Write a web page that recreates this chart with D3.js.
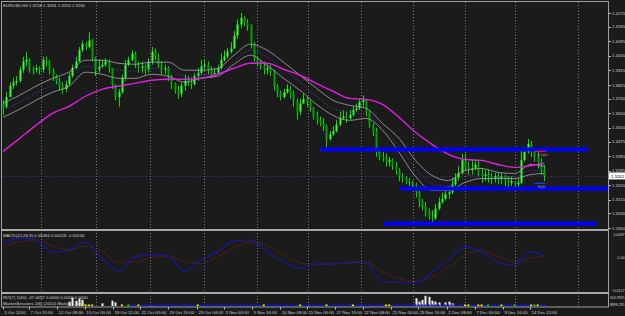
<!DOCTYPE html>
<html>
<head>
<meta charset="utf-8">
<script src="https://cdn.jsdelivr.net/npm/d3@7"></script>
<style>
  body { margin: 0; background: #1b1b1b; }
  svg text { font-family: "Liberation Sans", Arial, sans-serif; font-size: 4.3px; fill: #d0d0d0; }
</style>
</head>
<body>
<script>
const width = 625;
const height = 316;

// candles, one per 2 H4 bars, oldest first
const closes = [
  1.369,1.375,1.382,1.384,1.385,1.392,1.397,1.398,1.393,1.392,
  1.393,1.392,1.398,1.397,1.392,1.388,1.385,1.382,1.380,1.383,
  1.388,1.393,1.397,1.404,1.408,1.406,1.410,1.399,1.392,1.394,
  1.395,1.397,1.393,1.383,1.375,1.378,1.387,1.395,1.398,1.402,
  1.395,1.393,1.394,1.392,1.397,1.403,1.400,1.395,1.392,1.393,
  1.388,1.383,1.379,1.377,1.382,1.385,1.384,1.383,1.388,1.390,
  1.394,1.395,1.392,1.390,1.390,1.393,1.398,1.400,1.403,1.405,
  1.413,1.420,1.424,1.421,1.419,1.408,1.399,1.397,1.394,1.392,
  1.393,1.390,1.382,1.378,1.375,1.378,1.380,1.377,1.373,1.366,
  1.371,1.374,1.372,1.368,1.363,1.361,1.359,1.357,1.349,1.352,
  1.354,1.358,1.362,1.363,1.362,1.364,1.367,1.368,1.372,1.373,
  1.366,1.358,1.354,1.341,1.338,1.337,1.335,1.336,1.332,1.330,
  1.326,1.325,1.323,1.322,1.321,1.316,1.311,1.307,1.304,1.301,
  1.300,1.306,1.310,1.312,1.315,1.316,1.321,1.325,1.328,1.336,
  1.332,1.330,1.331,1.333,1.328,1.326,1.327,1.326,1.325,1.326,
  1.325,1.326,1.323,1.322,1.323,1.321,1.322,1.336,1.341,1.346,
  1.342,1.338,1.335,1.330,1.3262
];
const highs = [
  1.373,1.378,1.384,1.387,1.388,1.394,1.400,1.403,1.399,1.394,
  1.395,1.394,1.400,1.400,1.398,1.393,1.389,1.387,1.384,1.385,
  1.390,1.395,1.400,1.406,1.410,1.409,1.415,1.411,1.400,1.398,
  1.398,1.399,1.398,1.393,1.383,1.380,1.389,1.398,1.400,1.404,
  1.403,1.397,1.397,1.395,1.399,1.406,1.405,1.402,1.397,1.395,
  1.394,1.389,1.384,1.382,1.384,1.389,1.388,1.387,1.390,1.393,
  1.398,1.398,1.397,1.394,1.393,1.395,1.402,1.404,1.405,1.409,
  1.416,1.423,1.427,1.425,1.423,1.420,1.409,1.400,1.398,1.397,
  1.395,1.395,1.392,1.383,1.379,1.380,1.383,1.382,1.379,1.374,
  1.374,1.377,1.375,1.373,1.369,1.366,1.363,1.362,1.358,1.354,
  1.357,1.361,1.366,1.367,1.366,1.367,1.369,1.371,1.374,1.376,
  1.373,1.367,1.359,1.356,1.342,1.341,1.340,1.338,1.337,1.335,
  1.331,1.328,1.326,1.325,1.323,1.322,1.317,1.312,1.310,1.306,
  1.305,1.309,1.313,1.316,1.317,1.320,1.325,1.328,1.332,1.340,
  1.340,1.335,1.336,1.336,1.336,1.331,1.330,1.330,1.328,1.328,
  1.328,1.328,1.327,1.326,1.326,1.323,1.325,1.342,1.344,1.349,
  1.348,1.343,1.341,1.337,1.333
];
const lows = [
  1.364,1.368,1.375,1.380,1.382,1.384,1.390,1.394,1.390,1.389,
  1.390,1.389,1.390,1.394,1.389,1.385,1.383,1.379,1.377,1.378,
  1.382,1.387,1.392,1.397,1.403,1.404,1.405,1.397,1.388,1.390,
  1.393,1.394,1.390,1.380,1.373,1.369,1.377,1.385,1.394,1.397,
  1.393,1.390,1.390,1.389,1.390,1.395,1.398,1.393,1.389,1.389,
  1.385,1.380,1.377,1.374,1.375,1.379,1.382,1.380,1.382,1.385,
  1.389,1.392,1.389,1.387,1.388,1.389,1.392,1.397,1.399,1.402,
  1.405,1.411,1.418,1.419,1.416,1.405,1.397,1.394,1.392,1.389,
  1.389,1.388,1.379,1.375,1.373,1.374,1.377,1.374,1.369,1.361,
  1.364,1.371,1.369,1.366,1.361,1.358,1.357,1.354,1.344,1.348,
  1.351,1.353,1.357,1.361,1.359,1.361,1.363,1.366,1.367,1.369,
  1.363,1.356,1.351,1.338,1.336,1.335,1.332,1.332,1.330,1.327,
  1.323,1.322,1.321,1.320,1.318,1.313,1.307,1.305,1.301,1.299,
  1.297,1.299,1.305,1.309,1.311,1.312,1.315,1.320,1.323,1.327,
  1.330,1.327,1.327,1.330,1.326,1.322,1.323,1.322,1.321,1.322,
  1.321,1.321,1.320,1.318,1.320,1.318,1.318,1.321,1.335,1.340,
  1.338,1.335,1.331,1.327,1.323
];

// indicator readings, taken every 5 candles
const sampleIdx = [0,5,10,15,20,25,30,35,40,45,50,55,60,65,70,75,80,85,90,95,100,105,110,115,120,125,130,135,140,145,150,155,160,164];
const maSlow = [1.3414,1.3494,1.3575,1.3649,1.3693,1.3755,1.3798,1.3817,1.3835,1.3854,1.3860,1.3860,1.3866,1.3891,1.3928,1.3959,1.3959,1.3922,1.3885,1.3835,1.3786,1.3742,1.3736,1.3705,1.3625,1.3532,1.3457,1.3395,1.3364,1.3358,1.3333,1.3315,1.3327,1.3339];
const bandUpper = [1.3711,1.3761,1.3817,1.3866,1.3904,1.3978,1.3978,1.3959,1.3953,1.3966,1.3966,1.3916,1.3916,1.3928,1.4009,1.4077,1.4040,1.3966,1.3885,1.3804,1.3730,1.3699,1.3680,1.3587,1.3494,1.3358,1.3265,1.3234,1.3296,1.3308,1.3284,1.3277,1.3333,1.3321];
const bandMid = [1.3668,1.3718,1.3773,1.3823,1.3860,1.3941,1.3941,1.3916,1.3910,1.3928,1.3928,1.3879,1.3885,1.3897,1.3972,1.4040,1.3997,1.3922,1.3842,1.3755,1.3680,1.3656,1.3643,1.3556,1.3445,1.3308,1.3215,1.3197,1.3259,1.3271,1.3259,1.3259,1.3296,1.3296];
const bandLower = [1.3625,1.3674,1.3730,1.3780,1.3817,1.3904,1.3891,1.3866,1.3866,1.3891,1.3879,1.3842,1.3866,1.3879,1.3953,1.4009,1.3947,1.3866,1.3792,1.3705,1.3637,1.3606,1.3618,1.3544,1.3408,1.3259,1.3172,1.3172,1.3222,1.3246,1.3246,1.3246,1.3271,1.3277];
const macdMain = [0.0051,0.0072,0.0065,0.0022,0.0029,0.0058,-0.0004,-0.0048,0.0003,0.0011,0.0007,-0.0048,-0.0008,0.0022,0.0062,0.0065,0.0022,-0.0015,-0.0037,-0.0022,-0.0022,-0.0015,-0.0015,-0.0088,-0.0088,-0.0091,-0.0051,-0.0008,0.0040,0.0022,-0.0015,-0.0026,0.0022,0.0007];
const macdSignal = [0.0040,0.0058,0.0066,0.0045,0.0030,0.0042,0.0025,-0.0015,-0.0015,0.0000,0.0008,-0.0015,-0.0020,0.0005,0.0035,0.0058,0.0045,0.0012,-0.0018,-0.0025,-0.0022,-0.0018,-0.0016,-0.0050,-0.0075,-0.0085,-0.0068,-0.0035,0.0010,0.0025,0.0005,-0.0015,0.0000,0.0008];

// horizontal levels drawn on the chart: price, from candle, to candle
const levelPrice = [1.3426, 1.3184, 1.2967];
const levelFrom = [96, 120.3, 115.5];
const levelTo = [177.3, 183.3, 180];

// small marker objects near the last bars
const markPrice = [1.3414, 1.3216];
const markColor = ["#e01818", "#1040ff"];
const markText = ["R.right", "Right"];

// lower window histogram
const histIdx = [20,21,22,23,24,30,33,34,125,126,127,128,129,130,131,132,134,135,136];
const histVal = [250,480,300,420,350,150,300,200,450,250,350,580,520,300,250,200,200,250,150];
// session marks per candle: . none, b blue, y yellow, g green
const sessionCode = "........................yyyy........y.gbbybbbbbbbbbbbbbbbbbybbbbbbbbbbbbbbbbbbbybbbbbbbbbbybbbbbbbybbbbbbbybbbbbbbbbyybbbbbbbbbbbbbbbbbbbbbbyybbyybgbbbybbbgbbbbygybb";

// axes
const priceTicks = [1.4270,1.4185,1.4095,1.4005,1.3915,1.3825,1.3740,1.3650,1.3560,1.3475,1.3385,1.3295,1.3205,1.3115,1.3030,1.2940];
const macdTicks = [0.0087, 0, -0.0117];
const volTicks = ["624.9925", "8898.295"];
const gridIdx = [11.5, 28.1, 44.5, 60.8, 77, 92.4, 108.5, 124.2, 140, 155.2, 174.2];
const dateIdx = [0,7.9,16.4,24.8,33.3,41.5,50,58.8,67,75.5,84,92.1,100.6,109,117.6,125.8,134.5,143,151.5,159.7];
const dateText = ["5 Oct 2010","7 Oct 20:00","12 Oct 08:00","15 Oct 00:00","19 Oct 12:00","22 Oct 00:00","26 Oct 16:00","29 Oct 04:00","3 Nov 00:00","5 Nov 16:00","10 Nov 08:00","15 Nov 00:00","17 Nov 16:00","22 Nov 08:00","25 Nov 00:00","29 Nov 16:00","2 Dec 08:00","7 Dec 00:00","9 Dec 16:00","14 Dec 12:00"];

const svg = d3.select("body").append("svg")
    .attr("width", width)
    .attr("height", height);

svg.append("rect").attr("width", width).attr("height", height).attr("fill", "#1b1b1b");

const x = d3.scaleLinear().domain([0, 164]).range([3, 544.2]);
const y = d3.scaleLinear().domain([1.2940, 1.4270]).range([228, 13]);
const yMacd = d3.scaleLinear().domain([-0.0117, 0.0087]).range([290, 234]);
const yVol = d3.scaleLinear().domain([0, 624.9925]).range([306, 295]);
const axisX = 608.5;

svg.append("clipPath").attr("id", "mainClip")
    .append("rect").attr("x", 2).attr("y", 2).attr("width", 606).attr("height", 227);
svg.append("clipPath").attr("id", "macdClip")
    .append("rect").attr("x", 2).attr("y", 231).attr("width", 606).attr("height", 61);

// vertical grid
svg.selectAll(".grid").data(gridIdx).enter().append("line")
    .attr("x1", d => Math.round(x(d)) + 0.5)
    .attr("x2", d => Math.round(x(d)) + 0.5)
    .attr("y1", 2).attr("y2", 307)
    .attr("stroke", "#7a7a7a")
    .attr("stroke-dasharray", "1,2");

const main = svg.append("g").attr("clip-path", "url(#mainClip)");

// bid line
const last = closes[closes.length - 1];
main.append("line")
    .attr("x1", 2).attr("x2", axisX)
    .attr("y1", Math.round(y(last)) + 0.5)
    .attr("y2", Math.round(y(last)) + 0.5)
    .attr("stroke", "#3a3a7a")
    .attr("stroke-dasharray", "1,2");

// candles
const candles = closes.map((c, i) => ({
    i: i,
    o: i === 0 ? lows[0] + (highs[0] - lows[0]) * 0.8 : closes[i - 1],
    h: highs[i], l: lows[i], c: c
}));

main.selectAll(".wick").data(candles).enter().append("line")
    .attr("x1", d => Math.round(x(d.i)) + 0.5)
    .attr("x2", d => Math.round(x(d.i)) + 0.5)
    .attr("y1", d => y(Math.max(d.h, d.o, d.c)))
    .attr("y2", d => y(Math.min(d.l, d.o, d.c)))
    .attr("stroke", "#00e000")
    .attr("stroke-width", 1);

main.selectAll(".body").data(candles).enter().append("rect")
    .attr("x", d => Math.round(x(d.i)) - 0.5)
    .attr("width", 2)
    .attr("y", d => y(Math.max(d.o, d.c)))
    .attr("height", d => Math.max(1, Math.abs(y(d.o) - y(d.c))))
    .attr("fill", d => d.c >= d.o ? "#33ff33" : "#00a000");

// moving average channel
function priceLine(values) {
    return d3.line()
        .x((d, k) => x(sampleIdx[k]))
        .y(d => y(d))
        .curve(d3.curveMonotoneX)(values);
}
main.append("path").attr("d", priceLine(bandUpper))
    .attr("fill", "none").attr("stroke", "#a8a8a8").attr("stroke-width", 0.8);
main.append("path").attr("d", priceLine(bandLower))
    .attr("fill", "none").attr("stroke", "#a8a8a8").attr("stroke-width", 0.8);
main.append("path").attr("d", priceLine(bandMid))
    .attr("fill", "none").attr("stroke", "#4848c8").attr("stroke-width", 0.8)
    .attr("stroke-dasharray", "1,1.5");
main.append("path").attr("d", priceLine(maSlow))
    .attr("fill", "none").attr("stroke", "#e020e0").attr("stroke-width", 1.4);

// horizontal levels
main.selectAll(".level").data(levelPrice).enter().append("rect")
    .attr("x", (d, k) => x(levelFrom[k]))
    .attr("width", (d, k) => x(levelTo[k]) - x(levelFrom[k]))
    .attr("y", d => y(d) - 2)
    .attr("height", 4)
    .attr("fill", "#0000ff");

// marker objects
main.selectAll(".mark").data(markPrice).enter().append("line")
    .attr("x1", x(161)).attr("x2", x(164.5))
    .attr("y1", d => y(d)).attr("y2", d => y(d))
    .attr("stroke", (d, k) => markColor[k])
    .attr("stroke-width", 1.2);
main.selectAll(".markText").data(markPrice).enter().append("text")
    .attr("x", x(162)).attr("y", d => y(d) + 4.5)
    .style("font-size", "3.4px").style("fill", "#9a9a9a")
    .text((d, k) => markText[k]);

// title
svg.append("text").attr("x", 3).attr("y", 7)
    .text("EURUSD,H4  1.3258 1.3264 1.3250 1.3262");

// price axis
svg.selectAll(".ptick").data(priceTicks).enter().append("line")
    .attr("x1", axisX).attr("x2", axisX + 2.5)
    .attr("y1", d => Math.round(y(d)) + 0.5).attr("y2", d => Math.round(y(d)) + 0.5)
    .attr("stroke", "#bbbbbb");
svg.selectAll(".plabel").data(priceTicks).enter().append("text")
    .attr("x", 612).attr("y", d => y(d) + 1.6)
    .text(d3.format(".4f"));

svg.append("rect").attr("x", 609).attr("y", y(last) - 3.5)
    .attr("width", 16).attr("height", 7).attr("fill", "#ffffff");
svg.append("text").attr("x", 611).attr("y", y(last) + 1.6)
    .style("fill", "#000000").text(d3.format(".4f")(last));

// MACD window
const macd = svg.append("g").attr("clip-path", "url(#macdClip)");
const macdLine = d3.line()
    .x((d, k) => x(sampleIdx[k]))
    .y(d => yMacd(d))
    .curve(d3.curveMonotoneX);
macd.append("path").attr("d", macdLine(macdSignal))
    .attr("fill", "none").attr("stroke", "#c02020").attr("stroke-width", 0.9)
    .attr("stroke-dasharray", "1,2");
macd.append("path").attr("d", macdLine(macdMain))
    .attr("fill", "none").attr("stroke", "#1818a8").attr("stroke-width", 1.1);

svg.append("text").attr("x", 3).attr("y", 237)
    .text("MACD(12,26,9) 0.00084 0.00228 -0.00144");
svg.selectAll(".mlabel").data(macdTicks).enter().append("text")
    .attr("x", 624.5).attr("text-anchor", "end")
    .attr("y", d => yMacd(d) + 1.6)
    .style("font-size", "3.7px")
    .text(d => d === 0 ? "0.00" : d3.format(".4f")(d));

// lower window
svg.selectAll(".hist").data(histIdx).enter().append("rect")
    .attr("x", d => Math.round(x(d)) - 0.5)
    .attr("width", 2)
    .attr("y", (d, k) => yVol(histVal[k]))
    .attr("height", (d, k) => yVol(0) - yVol(histVal[k]))
    .attr("fill", "#f0f0f0");

const sessionColor = { b: "#1010ff", y: "#e8e800", g: "#20d020" };
const sessions = sessionCode.split("").map((c, i) => ({ i: i, c: c }))
    .filter(d => d.c !== "." && d.i < closes.length);
svg.selectAll(".sess").data(sessions).enter().append("rect")
    .attr("x", d => x(d.i) - 1)
    .attr("width", 2.2)
    .attr("y", 304.5)
    .attr("height", 1.5)
    .attr("fill", d => sessionColor[d.c]);

svg.append("text").attr("x", 3).attr("y", 298.5)
    .text("RVI(7) 1(40) -47.0657 0.0000 0.0000 0.0000");
svg.append("text").attr("x", 3).attr("y", 304.5)
    .text("MarketSessions 2(6) (2010) Market Cycles");
svg.selectAll(".vlabel").data(volTicks).enter().append("text")
    .attr("x", 624.5).attr("text-anchor", "end")
    .attr("y", (d, k) => k === 0 ? 298.5 : 305.5)
    .style("font-size", "3.5px")
    .text(d => d);

// frames and separators
svg.append("rect").attr("x", 1.5).attr("y", 1.5).attr("width", axisX - 1.5).attr("height", 305.5)
    .attr("fill", "none").attr("stroke", "#a0a0a0");
svg.append("rect").attr("x", 1).attr("y", 229).attr("width", axisX - 1).attr("height", 2).attr("fill", "#a8a8a8");
svg.append("rect").attr("x", 1).attr("y", 292).attr("width", axisX - 1).attr("height", 2).attr("fill", "#a8a8a8");

// time axis
svg.selectAll(".dtick").data(dateIdx).enter().append("line")
    .attr("x1", d => Math.round(x(d)) + 0.5).attr("x2", d => Math.round(x(d)) + 0.5)
    .attr("y1", 307).attr("y2", 309.5)
    .attr("stroke", "#bbbbbb");
svg.selectAll(".dlabel").data(dateText).enter().append("text")
    .attr("x", (d, k) => x(dateIdx[k]) + 1.5)
    .attr("y", 313.5)
    .text(d => d);
</script>
</body>
</html>
